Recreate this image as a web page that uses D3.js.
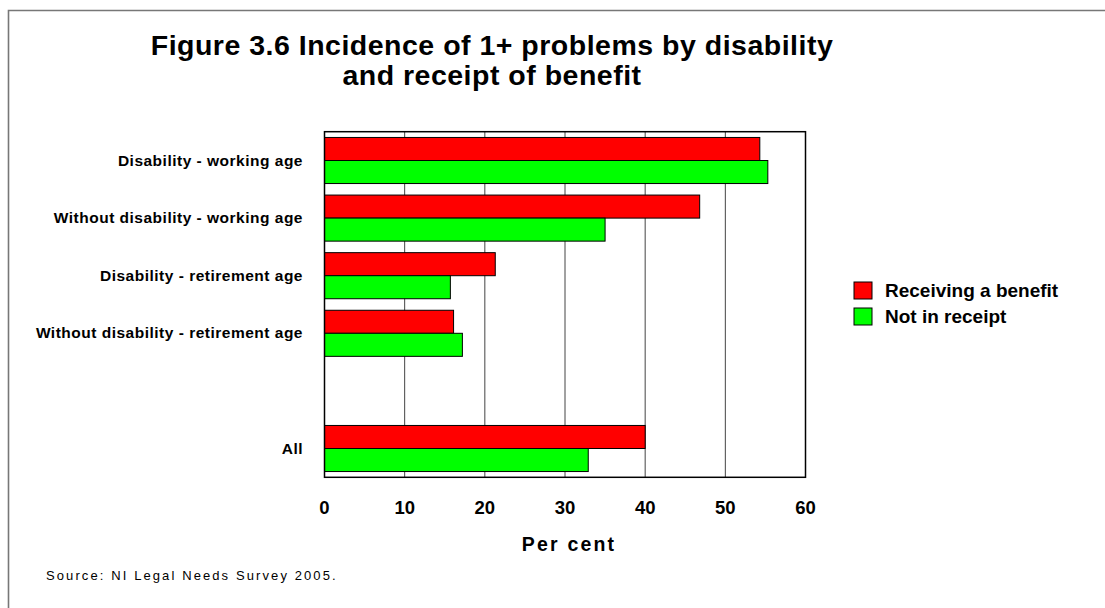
<!DOCTYPE html>
<html>
<head>
<meta charset="utf-8">
<script src="https://cdn.jsdelivr.net/npm/d3@7"></script>
<style>
  html, body { margin: 0; padding: 0; background: #fff; }
  svg { display: block; font-family: "Liberation Sans", Arial, sans-serif; }
</style>
</head>
<body>
<svg id="chart" width="1105" height="608"></svg>
<script>
const categories = [
  "Disability - working age",
  "Without disability - working age",
  "Disability - retirement age",
  "Without disability - retirement age",
  "",
  "All"
];
const receiving = [54.3, 46.8, 21.3, 16.1, null, 40.0];
const notReceiving = [55.3, 35.0, 15.7, 17.2, null, 32.9];
const seriesNames = ["Receiving a benefit", "Not in receipt"];
const seriesColors = ["#FF0000", "#00FF00"];
const xTicks = [0, 10, 20, 30, 40, 50, 60];
const titleLines = ["Figure 3.6 Incidence of 1+ problems by disability", "and receipt of benefit"];
const xAxisTitle = "Per cent";
const sourceText = "Source: NI Legal Needs Survey 2005.";

const svg = d3.select("#chart");
const plot = { left: 324.5, right: 805.5, top: 131.7, bottom: 477.3 };

// outer frame
svg.append("path")
  .attr("d", "M8.5,608 L8.5,10.5 L1105,10.5")
  .attr("fill", "none").attr("stroke", "#777").attr("stroke-width", 1.6);

// title
svg.append("g").selectAll("text").data(titleLines).join("text")
  .attr("x", 492).attr("y", (d, i) => 55 + i * 30)
  .attr("text-anchor", "middle")
  .attr("font-size", 28.5).attr("font-weight", "bold").attr("letter-spacing", 0.5)
  .text(d => d);

const x = d3.scaleLinear().domain([0, 60]).range([plot.left, plot.right]);
const y = d3.scaleBand().domain(d3.range(categories.length))
  .range([plot.top, plot.bottom]).paddingInner(0.2).paddingOuter(0.1);
const sub = d3.scaleBand().domain([0, 1]).range([0, y.bandwidth()]);

// gridlines
svg.append("g").selectAll("line").data(xTicks.slice(1, -1)).join("line")
  .attr("x1", d => x(d)).attr("x2", d => x(d))
  .attr("y1", plot.top).attr("y2", plot.bottom)
  .attr("stroke", "#444").attr("stroke-width", 1);

// bars
const series = [receiving, notReceiving];
series.forEach((vals, s) => {
  svg.append("g").selectAll("rect")
    .data(vals.map((v, i) => ({ v, i })).filter(d => d.v != null))
    .join("rect")
    .attr("x", x(0))
    .attr("y", d => y(d.i) + sub(s))
    .attr("width", d => x(d.v) - x(0))
    .attr("height", sub.bandwidth())
    .attr("fill", seriesColors[s])
    .attr("stroke", "#000").attr("stroke-width", 1);
});

// plot border
svg.append("rect")
  .attr("x", plot.left).attr("y", plot.top)
  .attr("width", plot.right - plot.left).attr("height", plot.bottom - plot.top)
  .attr("fill", "none").attr("stroke", "#000").attr("stroke-width", 1.5);

// category labels
svg.append("g").selectAll("text").data(categories.map((c, i) => ({ c, i })).filter(d => d.c)).join("text")
  .attr("x", 303).attr("y", d => y(d.i) + y.bandwidth() / 2 + 5)
  .attr("text-anchor", "end")
  .attr("font-size", 15.5).attr("font-weight", "bold").attr("letter-spacing", 0.5)
  .text(d => d.c);

// x tick labels
svg.append("g").selectAll("text").data(xTicks).join("text")
  .attr("x", d => x(d)).attr("y", 514)
  .attr("text-anchor", "middle")
  .attr("font-size", 18.5).attr("font-weight", "bold")
  .text(d => d);

// x axis title
svg.append("text")
  .attr("x", 569).attr("y", 551)
  .attr("text-anchor", "middle")
  .attr("font-size", 19.5).attr("font-weight", "bold").attr("letter-spacing", 2.2)
  .text(xAxisTitle);

// legend
const legend = svg.append("g").selectAll("g").data(seriesNames).join("g")
  .attr("transform", (d, i) => `translate(854,${282 + i * 26})`);
legend.append("rect")
  .attr("width", 18).attr("height", 17)
  .attr("fill", (d, i) => seriesColors[i])
  .attr("stroke", "#000").attr("stroke-width", 1);
legend.append("text")
  .attr("x", 31).attr("y", 15)
  .attr("font-size", 19).attr("font-weight", "bold")
  .text(d => d);

// source
svg.append("text")
  .attr("x", 46).attr("y", 580)
  .attr("font-size", 13).attr("letter-spacing", 2.1)
  .text(sourceText);
</script>
</body>
</html>
